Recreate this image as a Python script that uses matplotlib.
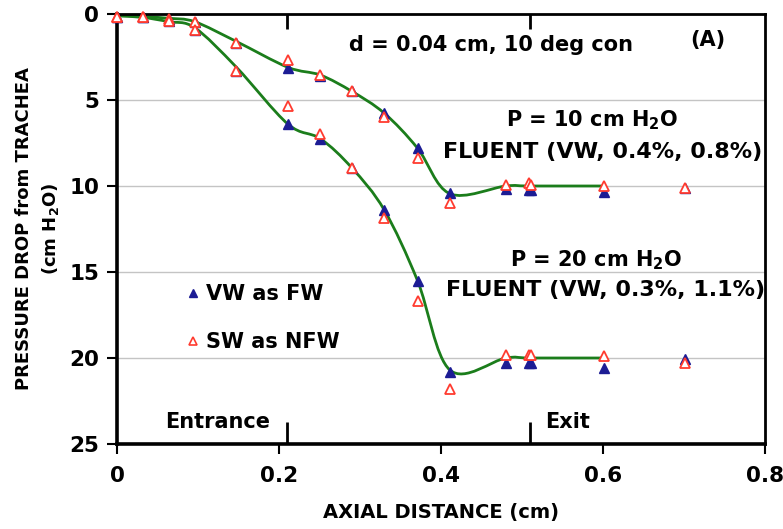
import matplotlib
matplotlib.use("Agg")
import matplotlib.pyplot as plt
from matplotlib.path import Path
from matplotlib.patches import PathPatch
from matplotlib.lines import Line2D
import numpy as np

plt.rcParams['font.family'] = ['DejaVu Sans']
plt.rcParams['mathtext.fontset'] = 'dejavusans'

# ---------------- data ----------------
x_pts = [0.0, 0.032, 0.064, 0.096, 0.1475, 0.211, 0.251, 0.29, 0.33, 0.371,
         0.411, 0.48, 0.509, 0.511, 0.601, 0.701]

vw_p10 = [0.15, 0.2, 0.3, 0.45, 1.67, 3.16, 3.6, 4.5, 5.77, 7.8,
          10.42, 10.2, 10.23, 10.23, 10.33, 10.1]
sw_p10 = [0.15, 0.2, 0.3, 0.45, 1.67, 2.67, 3.55, 4.5, 6.0, 8.39,
          11.0, 9.94, 9.84, 9.94, 9.98, 10.13]
vw_p20 = [0.15, 0.2, 0.4, 0.93, 3.3, 6.41, 7.29, 8.95, 11.4, 15.5,
          20.8, 20.3, 20.3, 20.3, 20.6, 20.08]
sw_p20 = [0.15, 0.2, 0.4, 0.93, 3.3, 5.35, 6.98, 8.95, 11.84, 16.7,
          21.8, 19.83, 19.8, 19.8, 19.87, 20.27]

x_fluent = [0.0, 0.032, 0.064, 0.096, 0.1475, 0.211, 0.251, 0.29, 0.33, 0.371,
            0.411, 0.48, 0.51, 0.601]
fluent_p10 = [0.1, 0.15, 0.25, 0.45, 1.6, 3.1, 3.55, 4.5, 5.77, 7.8,
              10.45, 10.0, 10.0, 10.0]
fluent_p20 = [0.1, 0.2, 0.45, 0.8, 3.1, 6.4, 7.25, 8.95, 11.4, 15.5,
              20.7, 20.0, 20.0, 20.0]

x_ticks = [0, 0.2, 0.4, 0.6, 0.8]
x_ticklabels = ['0', '0.2', '0.4', '0.6', '0.8']
y_ticks = [0, 5, 10, 15, 20, 25]
region_marks = [0.21, 0.51]

GREEN = '#1b7d1b'
BLUE = '#1c1c94'
RED = '#ff3b2f'


def smooth_path(xs, ys):
    """Excel-like smoothed line: cubic Bezier segments (Catmull-Rom)."""
    P = np.column_stack([xs, ys]).astype(float)
    n = len(P)
    verts = [tuple(P[0])]
    codes = [Path.MOVETO]
    for i in range(n - 1):
        p0 = P[i - 1] if i > 0 else P[i]
        p1 = P[i]
        p2 = P[i + 1]
        p3 = P[i + 2] if i + 2 < n else P[i + 1]
        c1 = p1 + (p2 - p0) / 6.0
        c2 = p2 - (p3 - p1) / 6.0
        verts += [tuple(c1), tuple(c2), tuple(p2)]
        codes += [Path.CURVE4] * 3
    return Path(verts, codes)


fig = plt.figure(figsize=(7.83, 5.29), dpi=100)
ax = fig.add_axes([117 / 783, 1 - 444 / 529, (765 - 117) / 783, (444 - 14) / 529])

ax.set_xlim(0, 0.8)
ax.set_ylim(25, 0)

# grid
for yv in y_ticks[1:-1]:
    ax.axhline(yv, color='#c4c4c4', lw=1.0, zorder=0)

# fluent curves
for ys in (fluent_p10, fluent_p20):
    ax.add_patch(PathPatch(smooth_path(x_fluent, ys), facecolor='none',
                           edgecolor=GREEN, lw=2.0, zorder=2))

# markers
mk = dict(linestyle='none', marker='^', markersize=7, zorder=3, clip_on=False)
ax.plot(x_pts, vw_p10, color=BLUE, markeredgecolor=BLUE, **mk)
ax.plot(x_pts, vw_p20, color=BLUE, markeredgecolor=BLUE, **mk)
ax.plot(x_pts, sw_p10, markerfacecolor='white', markeredgecolor=RED,
        markeredgewidth=1.3, **mk)
ax.plot(x_pts, sw_p20, markerfacecolor='white', markeredgecolor=RED,
        markeredgewidth=1.3, **mk)

# axes styling
ax.set_xticks(x_ticks)
ax.set_xticklabels(x_ticklabels)
ax.set_yticks(y_ticks)
for lab in ax.get_xticklabels() + ax.get_yticklabels():
    lab.set_fontweight('bold')
ax.tick_params(axis='both', direction='out', length=7, width=1.5,
               labelsize=15.5, pad=6)
ax.tick_params(axis='x', pad=9)
for side in ['left', 'bottom']:
    ax.spines[side].set_linewidth(2.6)
for side in ['top', 'right']:
    ax.spines[side].set_linewidth(2.0)

# entrance / exit marks
ax2 = ax.twiny()
ax2.set_xlim(ax.get_xlim())
ax2.set_xticks(region_marks)
ax2.tick_params(axis='x', direction='in', top=True, bottom=False,
                labeltop=False, labelbottom=False, length=11, width=2.0)
for s in ax2.spines.values():
    s.set_visible(False)
ax3 = ax.secondary_xaxis('bottom')
ax3.set_xticks(region_marks)
ax3.tick_params(direction='in', length=16, width=2.0, labelbottom=False)
ax3.spines['bottom'].set_visible(False)

ax.set_xlabel('AXIAL DISTANCE (cm)', fontsize=14, fontweight='bold', labelpad=12)
ax.set_ylabel('PRESSURE DROP from TRACHEA\n(cm H$_\\mathbf{2}$O)', fontsize=13,
              fontweight='bold', labelpad=6, linespacing=1.4)

# annotations
tk = dict(fontweight='bold', ha='center', va='center', fontsize=15)
ax.text(0.462, 1.8, 'd = 0.04 cm, 10 deg con', **tk)
ax.text(0.729, 1.5, '(A)', **tk)
ax.text(0.587, 6.2, 'P = 10 cm H$_\\mathbf{2}$O', **tk)
ax.text(0.599, 8.0, 'FLUENT (VW, 0.4%, 0.8%)', fontweight='bold', ha='center',
        va='center', fontsize=16)
ax.text(0.592, 14.3, 'P = 20 cm H$_\\mathbf{2}$O', **tk)
ax.text(0.603, 16.05, 'FLUENT (VW, 0.3%, 1.1%)', fontweight='bold', ha='center',
        va='center', fontsize=16)
ax.text(0.124, 23.75, 'Entrance', **tk)
ax.text(0.529, 23.75, 'Exit', fontweight='bold', ha='left', va='center', fontsize=15)

handles = [Line2D([], [], linestyle='none', marker='^', markersize=6,
                  color=BLUE, label='VW as FW'),
           Line2D([], [], linestyle='none', marker='^', markersize=6,
                  markerfacecolor='white', markeredgecolor=RED,
                  markeredgewidth=1.2, label='SW as NFW')]
leg = ax.legend(handles=handles, loc='upper left', bbox_to_anchor=(0.105, 0.372),
                frameon=False, handlelength=0.8, handletextpad=0.22,
                labelspacing=1.35, borderpad=0, borderaxespad=0,
                prop={'weight': 'bold', 'size': 15})

fig.savefig('out.png', dpi=100)
